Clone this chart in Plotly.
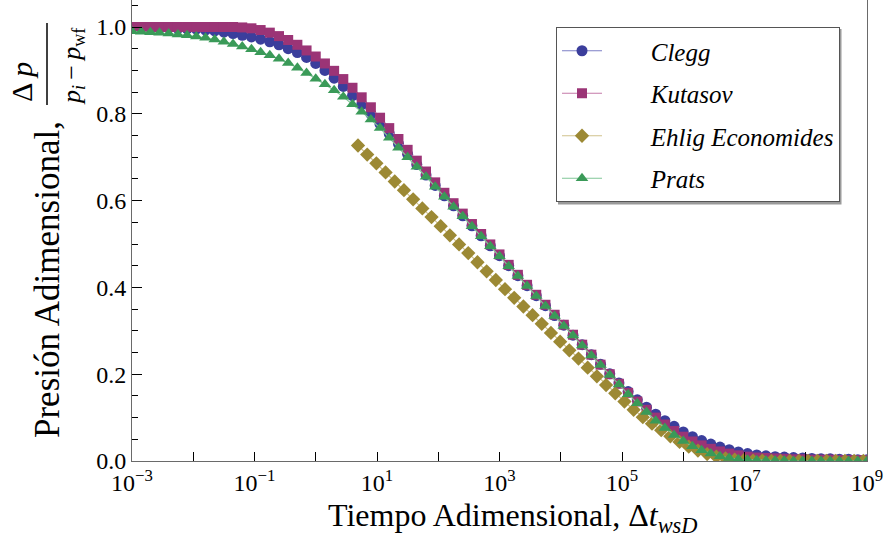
import plotly.graph_objects as go
import numpy as np

# ---------------- data ----------------
# sampling grid of log10(Δt_wsD) used by Clegg / Kutasov / Prats
main_log_t_start = -3.0
main_log_t_step = 0.15
# sampling grid used by the Ehlig-Economides series
ehlig_log_t_start = 0.69
ehlig_log_t_step = 0.15

clegg = [0.999, 0.999, 0.999, 0.998, 0.998, 0.997, 0.996, 0.995, 0.993, 0.991,
         0.988, 0.985, 0.981, 0.977, 0.972, 0.966, 0.959, 0.950, 0.941, 0.930,
         0.916, 0.900, 0.882, 0.863, 0.842, 0.821, 0.799, 0.776, 0.754, 0.731,
         0.707, 0.683, 0.659, 0.635, 0.611, 0.588, 0.565, 0.542, 0.519, 0.496,
         0.473, 0.450, 0.427, 0.404, 0.381, 0.358, 0.335, 0.313, 0.290, 0.268,
         0.245, 0.223, 0.201, 0.180, 0.160, 0.141, 0.124, 0.108, 0.093, 0.080,
         0.067, 0.056, 0.047, 0.039, 0.032, 0.026, 0.021, 0.017, 0.014, 0.012,
         0.010, 0.009, 0.008, 0.007, 0.006, 0.005, 0.005, 0.004, 0.004, 0.003,
         0.003]

kutasov = [1.000, 1.000, 1.000, 1.000, 1.000, 1.000, 1.000, 1.000, 1.000, 1.000,
           1.000, 1.000, 0.999, 0.997, 0.993, 0.987, 0.979, 0.970, 0.959, 0.946,
           0.932, 0.916, 0.899, 0.880, 0.860, 0.838, 0.815, 0.791, 0.767, 0.742,
           0.717, 0.692, 0.667, 0.642, 0.618, 0.594, 0.570, 0.546, 0.523, 0.499,
           0.476, 0.452, 0.429, 0.406, 0.383, 0.360, 0.337, 0.314, 0.291, 0.268,
           0.245, 0.222, 0.200, 0.178, 0.157, 0.137, 0.118, 0.100, 0.084, 0.069,
           0.056, 0.045, 0.036, 0.028, 0.022, 0.017, 0.013, 0.010, 0.008, 0.007,
           0.006, 0.005, 0.004, 0.004, 0.003, 0.003, 0.003, 0.002, 0.002, 0.002,
           0.002]

prats = [0.990, 0.989, 0.988, 0.987, 0.985, 0.983, 0.981, 0.978, 0.975, 0.971,
         0.966, 0.961, 0.955, 0.949, 0.942, 0.935, 0.927, 0.917, 0.906, 0.894,
         0.881, 0.868, 0.854, 0.839, 0.822, 0.805, 0.787, 0.767, 0.745, 0.722,
         0.700, 0.678, 0.655, 0.632, 0.609, 0.586, 0.564, 0.541, 0.518, 0.495,
         0.472, 0.449, 0.426, 0.403, 0.380, 0.357, 0.334, 0.311, 0.289, 0.266,
         0.243, 0.221, 0.198, 0.176, 0.154, 0.133, 0.113, 0.093, 0.076, 0.060,
         0.046, 0.034, 0.025, 0.017, 0.011, 0.007, 0.004, 0.003, 0.002, 0.001,
         0.001, 0.001, 0.000, 0.000, 0.000, 0.000, 0.000, 0.000, 0.000, 0.000,
         0.000]

ehlig = [0.727, 0.706, 0.686, 0.665, 0.644, 0.624, 0.603, 0.582, 0.562, 0.541,
         0.520, 0.499, 0.479, 0.458, 0.437, 0.417, 0.396, 0.376, 0.356, 0.336,
         0.316, 0.295, 0.275, 0.255, 0.236, 0.215, 0.195, 0.175, 0.156, 0.137,
         0.118, 0.101, 0.086, 0.071, 0.057, 0.044, 0.033, 0.024, 0.016, 0.010,
         0.006, 0.003, 0.002, 0.001, 0.001, 0.000, 0.000, 0.000, 0.000, 0.000,
         0.000, 0.000, 0.000, 0.000, 0.000, 0.000]

series_names = ["Clegg", "Kutasov", "Ehlig Economides", "Prats"]

x_tick_exponents = [-3, -2, -1, 0, 1, 2, 3, 4, 5, 6, 7, 8, 9]
x_tick_labels = ["10<sup>−3</sup>", "", "10<sup>−1</sup>", "", "10<sup>1</sup>", "",
                 "10<sup>3</sup>", "", "10<sup>5</sup>", "", "10<sup>7</sup>", "",
                 "10<sup>9</sup>"]
y_tick_values = [0.0, 0.2, 0.4, 0.6, 0.8, 1.0]
y_tick_labels = ["0.0", "0.2", "0.4", "0.6", "0.8", "1.0"]
y_minor_values = [0.05, 0.1, 0.15, 0.25, 0.3, 0.35, 0.45, 0.5, 0.55,
                  0.65, 0.7, 0.75, 0.85, 0.9, 0.95, 1.05]

# ---------------- styles ----------------
FONT = "Liberation Serif, Times New Roman, serif"
marker_colors = ["#3b3e9c", "#9b3476", "#9c8934", "#3a9a58"]
line_colors = ["#7d7fc6", "#c47aa8", "#d0c28c", "#80c697"]
symbols = ["circle", "square", "diamond", "triangle-up"]
sizes = [11, 10, 11, 11]

t_main = 10 ** (main_log_t_start + main_log_t_step * np.arange(len(clegg)))
t_ehlig = 10 ** (ehlig_log_t_start + ehlig_log_t_step * np.arange(len(ehlig)))

xs = [t_main, t_main, t_ehlig, t_main]
ys = [clegg, kutasov, ehlig, prats]

fig = go.Figure()
for i in range(4):
    fig.add_trace(go.Scatter(
        x=xs[i], y=ys[i], mode="lines+markers",
        name="\u00a0" * 7 + "<i>" + series_names[i] + "</i>",
        legendgroup=str(i),
        line=dict(color=line_colors[i], width=1.2),
        marker=dict(symbol=symbols[i], size=sizes[i], color=marker_colors[i],
                    line=dict(width=0)),
        cliponaxis=True,
    ))

W, H = 888, 544
L, R, T, B = 132, 21, 0, 83
pw, ph = W - L - R, H - T - B


def px(xp):
    return (xp - L) / pw


def py(yp):
    return (H - B - yp) / ph


fig.update_layout(
    width=W, height=H,
    margin=dict(l=L, r=R, t=T, b=B),
    paper_bgcolor="white", plot_bgcolor="white",
    font=dict(family=FONT, color="black"),
    showlegend=True,
    legend=dict(
        x=px(556), y=py(27), xanchor="left", yanchor="top",
        bgcolor="white", bordercolor="#555555", borderwidth=1,
        font=dict(family=FONT, size=25, color="black"),
        tracegroupgap=7, itemwidth=40, traceorder="grouped",
    ),
    xaxis=dict(
        type="log", range=[-3, 9],
        tickmode="array",
        tickvals=[10.0 ** e for e in x_tick_exponents],
        ticktext=x_tick_labels,
        ticks="inside", ticklen=9, tickwidth=1, tickcolor="#000000",
        showline=True, linecolor="#6a6a6a", linewidth=1, mirror=False,
        showgrid=False, zeroline=False,
        tickfont=dict(family=FONT, size=24, color="black"),
    ),
    yaxis=dict(
        range=[0, (H - B - T) / 434.0],
        tickmode="array", tickvals=y_tick_values, ticktext=y_tick_labels,
        ticks="inside", ticklen=10, tickwidth=1, tickcolor="#000000",
        minor=dict(tickmode="array", tickvals=y_minor_values, ticks="inside",
                   ticklen=6, tickcolor="#000000", showgrid=False),
        showline=True, linecolor="#6a6a6a", linewidth=1, mirror=True,
        showgrid=False, zeroline=False,
        tickfont=dict(family=FONT, size=24, color="black"),
    ),
)

# axis titles (x title and the y title with its fraction)
fig.add_annotation(
    xref="paper", yref="paper", x=px(512), y=py(517),
    text="Tiempo Adimensional, Δ<i>t</i><sub><i>wsD</i></sub>",
    showarrow=False, xanchor="center", yanchor="middle",
    font=dict(family=FONT, size=32, color="black"),
)
fig.add_annotation(
    xref="paper", yref="paper", x=px(47), y=py(280),
    text="Presión Adimensional,", textangle=-90,
    showarrow=False, xanchor="center", yanchor="middle",
    font=dict(family=FONT, size=35, color="black"),
)
fig.add_annotation(
    xref="paper", yref="paper", x=px(22), y=py(82),
    text="Δ <i>p</i>", textangle=-90,
    showarrow=False, xanchor="center", yanchor="middle",
    font=dict(family=FONT, size=30, color="black"),
)
fig.add_annotation(
    xref="paper", yref="paper", x=px(73), y=py(66),
    text="<i>p</i><sub><i>i</i></sub>\u2009−\u2009<i>p</i><sub>wf</sub>",
    textangle=-90,
    showarrow=False, xanchor="center", yanchor="middle",
    font=dict(family=FONT, size=26, color="black"),
)
fig.add_shape(type="line", xref="paper", yref="paper",
              x0=px(47), x1=px(47), y0=py(105), y1=py(23),
              line=dict(color="black", width=1.5))
# legend drop shadow (right and bottom edges)
fig.add_shape(type="rect", xref="paper", yref="paper", layer="above",
              x0=px(558), x1=px(841.5), y0=py(204.5), y1=py(29),
              fillcolor="#9a9a9a", line=dict(width=0))

fig.write_html("out.html",
               config={"displayModeBar": False},
               post_script="document.body.style.margin='0';"
                           "document.body.style.overflow='hidden';")
